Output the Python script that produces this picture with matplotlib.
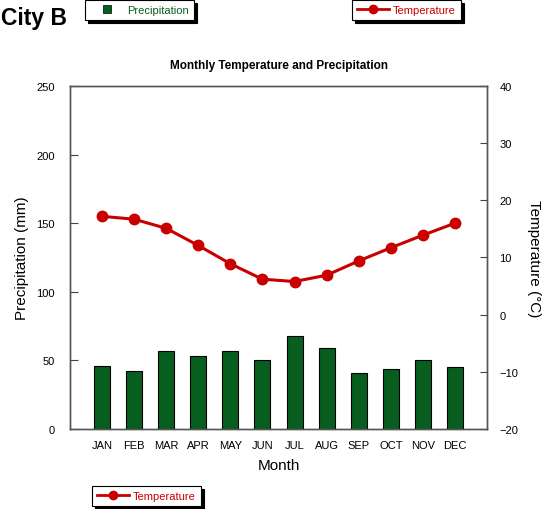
import matplotlib
matplotlib.use("Agg")
import matplotlib.pyplot as plt
from matplotlib.lines import Line2D

plt.rcParams['font.family'] = ['Liberation Sans', 'DejaVu Sans']

months = ["JAN", "FEB", "MAR", "APR", "MAY", "JUN", "JUL", "AUG", "SEP", "OCT", "NOV", "DEC"]
precip = [46, 42, 57, 53, 57, 50, 68, 59, 41, 44, 50, 45]
temp = [17.2, 16.7, 15.1, 12.1, 8.9, 6.2, 5.8, 6.9, 9.4, 11.7, 13.9, 16.0]

W, H = 547, 510
fig = plt.figure(figsize=(W / 100, H / 100), dpi=100)
ax = fig.add_axes([70 / W, 1 - 430 / H, (487 - 70) / W, (430 - 87) / H])
ax2 = ax.twinx()

green = "#075E1E"
red = "#C80000"
x = list(range(len(months)))

ax.bar(x, precip, width=0.5, color=green, edgecolor="black", linewidth=0.8, zorder=2)
ax2.plot(x, temp, color=red, linewidth=2.2, marker="o", markersize=7.5, zorder=3)

ax.set_xlim(-1, 12)
ax.set_ylim(0, 250)
ax2.set_ylim(-20, 40)
ax.set_yticks([0, 50, 100, 150, 200, 250])
ax2.set_yticks([-20, -10, 0, 10, 20, 30, 40])
ax.set_xticks(x)
ax.set_xticklabels(months)

ax.tick_params(axis="x", length=0, labelsize=8, pad=8)
ax.tick_params(axis="y", direction="in", length=6, labelsize=8, pad=11, color="#444444")
ax2.tick_params(axis="y", direction="in", length=5, labelsize=8, pad=9, color="#444444")

for a in (ax, ax2):
    for s in a.spines.values():
        s.set_color("#555555")
        s.set_linewidth(1.0)

ax.set_xlabel("Month", fontsize=11, labelpad=6)
ax.set_ylabel("Precipitation (mm)", fontsize=11, labelpad=5)
ax2.set_ylabel("Temperature (°C)", fontsize=11, rotation=-90, labelpad=16)

ax.set_title("Monthly Temperature and Precipitation", fontsize=8.5, fontweight="bold", pad=13)

fig.text(1 / W, 1 - 19 / H, "City B", fontsize=16.5, fontweight="bold", va="center", ha="left")

sq = Line2D([], [], linestyle="none", marker="s", markersize=6, color=green,
            markeredgecolor="black", markeredgewidth=0.5)
tl = Line2D([], [], color=red, linewidth=2, marker="o", markersize=6)

def add_leg(handle, label, tcolor, xpx, ypx, hl):
    lg = fig.legend([handle], [label], loc="upper left",
                    bbox_to_anchor=(xpx / W, 1 - ypx / H), bbox_transform=fig.transFigure,
                    fontsize=8, labelcolor=tcolor, frameon=True, fancybox=False,
                    shadow={"color": "black", "alpha": 1.0}, handlelength=hl,
                    handletextpad=0.35, borderpad=0.45, borderaxespad=0)
    lg.get_frame().set_edgecolor("black")
    lg.get_frame().set_linewidth(0.8)
    return lg

add_leg(sq, "Precipitation", green, 85, 1, 3.0)
add_leg(tl, "Temperature", red, 352, 1, 2.9)
add_leg(tl, "Temperature", red, 92, 487, 2.9)

fig.savefig("out.png", dpi=100)
